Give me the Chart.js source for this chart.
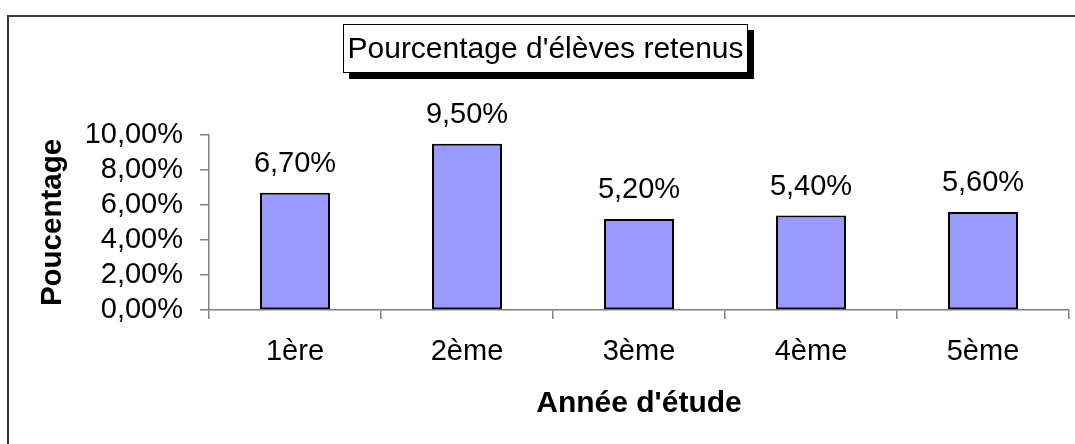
<!DOCTYPE html>
<html>
<head>
<meta charset="utf-8">
<script src="https://cdn.jsdelivr.net/npm/chart.js@4.4.1/dist/chart.umd.min.js"></script>
<style>
  html, body { margin: 0; padding: 0; background: #ffffff; }
  #wrap { width: 1075px; height: 444px; position: relative; }
</style>
</head>
<body>
<div id="wrap"><canvas id="c" width="1075" height="444"></canvas></div>
<script>
const categories = ['1ère', '2ème', '3ème', '4ème', '5ème'];
const retainedPercent = [6.7, 9.5, 5.2, 5.4, 5.6];
const yTickValues = [0, 2, 4, 6, 8, 10];
const chartTitle = "Pourcentage d'élèves retenus";
const yAxisTitle = 'Poucentage';
const xAxisTitle = "Année d'étude";

const FONT = "'Liberation Sans', Arial, sans-serif";
const fmt = v => v.toFixed(2).replace('.', ',') + '%';

const framePlugin = {
  id: 'frameAndTitle',
  beforeDraw(chart) {
    const ctx = chart.ctx;
    ctx.save();
    ctx.fillStyle = '#ffffff';
    ctx.fillRect(0, 0, chart.width, chart.height);
    ctx.strokeStyle = '#3a3a3a';
    ctx.lineWidth = 2;
    ctx.strokeRect(8, 16, chart.width + 50, chart.height + 50);
    ctx.restore();
  },
  afterDraw(chart) {
    const ctx = chart.ctx;
    ctx.save();
    const bx = 343, by = 24, bw = 405, bh = 49, sh = 6;
    ctx.fillStyle = '#000000';
    ctx.fillRect(bx + sh, by + sh, bw, bh);
    ctx.fillStyle = '#ffffff';
    ctx.fillRect(bx, by, bw, bh);
    ctx.strokeStyle = '#000000';
    ctx.lineWidth = 1;
    ctx.strokeRect(bx + 0.5, by + 0.5, bw - 1, bh - 1);
    ctx.fillStyle = '#000000';
    ctx.font = '30px ' + FONT;
    ctx.textAlign = 'center';
    ctx.textBaseline = 'middle';
    ctx.fillText(chartTitle, bx + bw / 2, by + bh / 2 + 1);

    // value labels above bars
    const meta = chart.getDatasetMeta(0);
    ctx.font = '29px ' + FONT;
    ctx.textBaseline = 'alphabetic';
    meta.data.forEach((bar, i) => {
      const v = chart.data.datasets[0].data[i];
      ctx.fillText(fmt(v), bar.x, bar.y - 21);
    });
    ctx.restore();
  }
};

new Chart(document.getElementById('c'), {
  type: 'bar',
  data: {
    labels: categories,
    datasets: [{
      data: retainedPercent,
      backgroundColor: '#9999FF',
      borderColor: '#000000',
      borderWidth: 2,
      borderSkipped: false,
      categoryPercentage: 0.8,
      barPercentage: 0.509
    }]
  },
  options: {
    responsive: false,
    animation: false,
    devicePixelRatio: 1,
    layout: { padding: { left: 0, right: 6, top: 135, bottom: 0 } },
    plugins: {
      legend: { display: false },
      title: { display: false },
      tooltip: { enabled: false }
    },
    scales: {
      x: {
        offset: true,
        grid: {
          display: true, drawOnChartArea: false, drawTicks: true,
          tickLength: 9, color: '#808080', lineWidth: 1.5, offset: true
        },
        border: { display: true, color: '#808080', width: 1.5 },
        ticks: {
          color: '#000000', font: { family: FONT, size: 29 },
          padding: 16, maxRotation: 0, autoSkip: false
        },
        title: {
          display: true, text: xAxisTitle, color: '#000000',
          font: { family: FONT, size: 30, weight: 'bold' },
          padding: { top: 0, bottom: 22 }
        },
        afterFit(scale) { scale.height = 134; }
      },
      y: {
        min: 0, max: 10,
        afterBuildTicks(scale) { scale.ticks = yTickValues.map(v => ({ value: v })); },
        grid: {
          display: true, drawOnChartArea: false, drawTicks: true,
          tickLength: 9, color: '#808080', lineWidth: 1.5
        },
        border: { display: true, color: '#808080', width: 1.5 },
        ticks: {
          color: '#000000', font: { family: FONT, size: 29 },
          padding: 17, autoSkip: false,
          callback: v => fmt(v)
        },
        title: {
          display: true, text: yAxisTitle, color: '#000000',
          font: { family: FONT, size: 29.5, weight: 'bold' },
          padding: { top: 35, bottom: 0 }
        },
        afterFit(scale) { scale.width = 209; }
      }
    }
  },
  plugins: [framePlugin]
});
</script>
</body>
</html>
